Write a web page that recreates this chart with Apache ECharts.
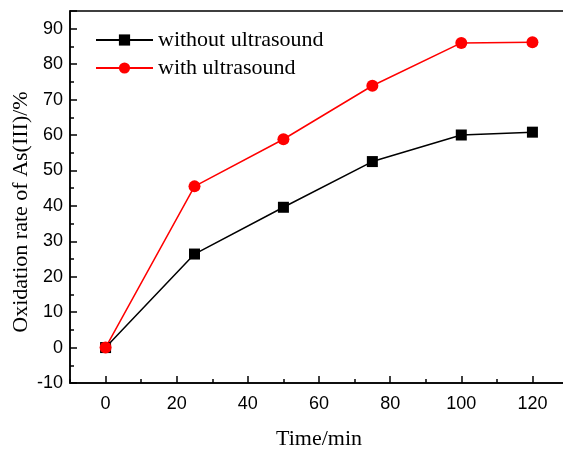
<!DOCTYPE html>
<html><head><meta charset="utf-8">
<script src="https://cdn.jsdelivr.net/npm/echarts@6/dist/echarts.min.js"></script>
<style>html,body{margin:0;padding:0;background:#fff}#c{width:563px;height:451px}</style>
</head><body><div id="c"></div>
<script>
var times = [0, 25, 50, 75, 100, 120];
var withoutUS = [0, 26.4, 39.6, 52.5, 60.0, 60.8];
var withUS = [0, 45.5, 58.8, 73.9, 86.0, 86.2];
var seriesNames = ['without ultrasound', 'with ultrasound'];
var xTickLabels = [0, 20, 40, 60, 80, 100, 120];

var chart = echarts.init(document.getElementById('c'));
function pairs(xs, ys){ return xs.map(function(x,i){return [x, ys[i]];}); }
var serif = 'Liberation Serif', sans = 'Liberation Sans';
chart.setOption({
  animation: false,
  backgroundColor: '#fff',
  grid: {left: 70, top: 11, bottom: 68, right: -5, outerBoundsMode: 'none', containLabel: false,
         show: true, borderColor: '#000', borderWidth: 1.5, backgroundColor: 'transparent'},
  legend: {
    left: 95, top: 29, padding: 0, orient: 'vertical', itemGap: 6, itemWidth: 57, itemHeight: 14,
    textStyle: {fontFamily: serif, fontSize: 22, color: '#000'},
    data: seriesNames
  },
  xAxis: [{
    type: 'value', min: -10, max: 130, interval: 10,
    name: 'Time/min', nameLocation: 'middle', nameGap: 45,
    nameTextStyle: {fontFamily: serif, fontSize: 22, color: '#000'},
    axisLine: {onZero: false, lineStyle: {color: '#000', width: 1.5}},
    axisTick: {inside: true, length: 4, lineStyle: {color: '#000', width: 1.5}},
    splitLine: {show: false},
    axisLabel: {fontFamily: sans, fontSize: 18, color: '#000', margin: 12,
      formatter: function(v){ return xTickLabels.indexOf(v) >= 0 ? String(v) : ''; }}
  }, {
    type: 'value', min: -10, max: 130, position: 'bottom',
    axisLine: {show: false, onZero: false},
    axisTick: {show: true, inside: true, length: 7, customValues: xTickLabels, lineStyle: {color: '#000', width: 1.5}},
    axisLabel: {show: false},
    splitLine: {show: false}
  }],
  yAxis: {
    type: 'value', min: -10, max: 95, interval: 10,
    name: 'Oxidation rate of As(III)/%', nameLocation: 'middle', nameGap: 38, nameMoveOverlap: false,
    nameTextStyle: {fontFamily: serif, fontSize: 22, color: '#000', padding: [0, 30, 0, 0]},
    axisLine: {onZero: false, lineStyle: {color: '#000', width: 1.5}},
    axisTick: {inside: true, length: 7, lineStyle: {color: '#000', width: 1.5}},
    minorTick: {show: true, splitNumber: 2, length: 4, lineStyle: {color: '#000', width: 1.5}},
    splitLine: {show: false},
    axisLabel: {fontFamily: sans, fontSize: 18, color: '#000', margin: 7, showMaxLabel: false}
  },
  series: [
    {name: seriesNames[0], type: 'line', data: pairs(times, withoutUS), symbol: 'rect', symbolSize: 11,
     itemStyle: {color: '#000'}, lineStyle: {color: '#000', width: 1.5}},
    {name: seriesNames[1], type: 'line', data: pairs(times, withUS), symbol: 'circle', symbolSize: 12,
     itemStyle: {color: '#ff0000'}, lineStyle: {color: '#ff0000', width: 1.5}}
  ]
});
</script></body></html>
